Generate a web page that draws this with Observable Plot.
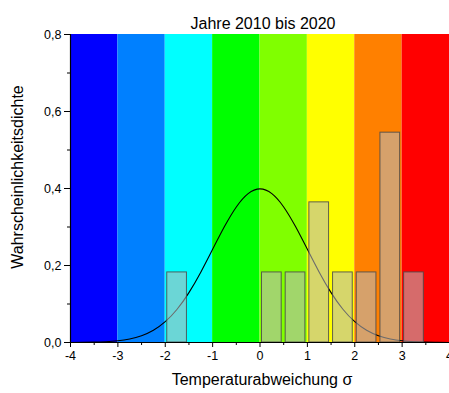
<!DOCTYPE html>
<html>
<head>
<meta charset="utf-8">
<script src="https://cdn.jsdelivr.net/npm/d3@7"></script>
<script src="https://cdn.jsdelivr.net/npm/@observablehq/plot@0.6"></script>
<style>
  html, body { margin: 0; padding: 0; background: #fff; }
  svg { font-family: "Liberation Sans", Arial, sans-serif; }
</style>
</head>
<body>
<div id="chart"></div>
<script>
// Temperature-deviation classes (sigma bands) and their colours
const bandStart = [-4, -3, -2, -1, 0, 1, 2, 3];
const bandEnd   = [-3, -2, -1, 0, 1, 2, 3, 4];
const bandColor = ["#0000ff", "#0080ff", "#00ffff", "#00ff00", "#80ff00", "#ffff00", "#ff8000", "#ff0000"];

// Histogram of yearly deviations 2010–2020 (bin start, probability density)
const binStart = [-2, 0, 0.5, 1, 1.5, 2, 2.5, 3];
const binDensity = [0.182, 0.182, 0.182, 0.364, 0.182, 0.182, 0.545, 0.182];

// Standard normal density, sampled
const curveX = [-4, -3.75, -3.5, -3.25, -3, -2.75, -2.5, -2.25, -2, -1.75, -1.5, -1.25, -1, -0.75, -0.5, -0.25,
                0, 0.25, 0.5, 0.75, 1, 1.25, 1.5, 1.75, 2, 2.25, 2.5, 2.75, 3, 3.25, 3.5, 3.75, 4];
const curveY = [0.0001, 0.0004, 0.0009, 0.0020, 0.0044, 0.0091, 0.0175, 0.0317, 0.0540, 0.0863, 0.1295, 0.1826, 0.2420, 0.3011, 0.3521, 0.3867,
                0.3989, 0.3867, 0.3521, 0.3011, 0.2420, 0.1826, 0.1295, 0.0863, 0.0540, 0.0317, 0.0175, 0.0091, 0.0044, 0.0020, 0.0009, 0.0004, 0.0001];

// Axis ticks
const xTicks = [-4, -3, -2, -1, 0, 1, 2, 3, 4];
const xMinor = [-3.5, -2.5, -1.5, -0.5, 0.5, 1.5, 2.5, 3.5];
const yTicks = [0, 0.2, 0.4, 0.6, 0.8];
const yMinor = [0.1, 0.3, 0.5, 0.7];

const bands = bandStart.map((s, i) => ({x1: s, x2: bandEnd[i], color: bandColor[i]}));
const bins = binStart.map((s, i) => ({x1: s, x2: s + 0.5, y: binDensity[i]}));
const curve = curveX.map((x, i) => ({x, y: curveY[i]}));

const fmtY = d => d.toFixed(1).replace(".", ",");
const noLabel = () => "";

const chart = Plot.plot({
  width: 449,
  height: 393,
  marginLeft: 70,
  marginRight: 0,
  marginTop: 34,
  marginBottom: 51,
  style: {fontFamily: "Liberation Sans, Arial, sans-serif", fontSize: "12.5px", color: "#000", background: "#fff"},
  x: {domain: [-4, 4]},
  y: {domain: [0, 0.8]},
  marks: [
    Plot.rect(bands, {x1: "x1", x2: "x2", y1: 0, y2: 0.8, fill: "color"}),
    Plot.line(curve, {x: "x", y: "y", stroke: "#000", strokeWidth: 1.1, curve: "natural"}),
    Plot.rect(bins, {x1: "x1", x2: "x2", y1: 0, y2: "y", insetLeft: 2, insetRight: 2,
      fill: "#b9b9b9", fillOpacity: 0.58, stroke: "#4a4a4a", strokeOpacity: 0.85, strokeWidth: 1}),
    // axes
    Plot.axisX({ticks: xTicks, tickSize: 5, tickPadding: 4, tickFormat: d => String(d), label: null, fontSize: 12.5}),
    Plot.axisX({ticks: xMinor, tickSize: 3, tickFormat: noLabel, label: null}),
    Plot.axisY({ticks: yTicks, tickSize: 6, tickPadding: 3, tickFormat: fmtY, label: null, fontSize: 12.5}),
    Plot.axisY({ticks: yMinor, tickSize: 3, tickFormat: noLabel, label: null}),
    Plot.ruleY([0], {stroke: "#000", strokeWidth: 1.2}),
    Plot.ruleX([-4], {stroke: "#000", strokeWidth: 1.2}),
    // titles
    Plot.text(["Jahre 2010 bis 2020"], {frameAnchor: "top", dx: 3, dy: -16.5, fontSize: 16, fill: "#000"}),
    Plot.text(["Temperaturabweichung σ"], {frameAnchor: "bottom", dx: 2, dy: 42.5, fontSize: 16, fill: "#000"}),
    Plot.text(["Wahrscheinlichkeitsdichte"], {frameAnchor: "left", textAnchor: "middle", dx: -52.5, dy: -11.5, rotate: -90, fontSize: 16, fill: "#000"})
  ]
});

document.getElementById("chart").appendChild(chart);
</script>
</body>
</html>
